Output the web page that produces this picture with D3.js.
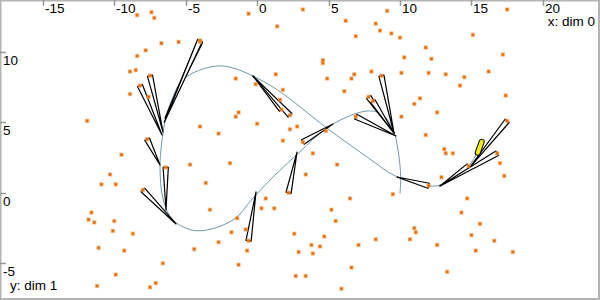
<!DOCTYPE html>
<html>
<head>
<meta charset="utf-8">
<script src="https://cdn.jsdelivr.net/npm/d3@7"></script>
<style>
html,body{margin:0;padding:0;background:#fff;}
svg{display:block;font-family:"Liberation Sans",Arial,sans-serif;}
</style>
</head>
<body>
<svg id="chart" width="600" height="300"></svg>
<script>
// Tick values
const xTicks = [-15, -10, -5, 0, 5, 10, 15, 20];
const yTicks = [-5, 0, 5, 10];

// Plain scatter points (dim 0, dim 1)
const pointsX = [-8.4,-7.4,-7.2,-0.6,1.4,-6.7,-5.5,-7.8,-8.4,-8.5,-8.9,1.3,-1.5,-0.1,1.8,-8.9,-7.6,1.6,
  3.2,9.1,17.5,6.2,8.3,8.6,9.4,10.0,6.9,15.1,11.8,17.2,4.6,4.6,10.3,12.2,6.8,8.0,10.1,12.0,13.2,14.5,16.2,4.9,6.6,14.2,6.1,17.4,11.4,
  -11.9,-9.5,-10.3,-10.9,-9.9,-4.0,-2.7,-1.5,-1.3,0.0,-4.7,-1.9,-3.6,2.8,2.3,1.8,0.6,
  11.0,12.6,10.1,4.8,3.9,11.8,13.1,13.2,13.7,17.0,17.3,12.9,5.6,3.4,9.5,6.5,14.7,
  -11.6,-11.8,-11.4,-10.0,-10.1,-8.7,-11.1,-9.3,-6.6,-9.9,-11.2,-7.5,-7.1,-3.3,-1.4,-1.8,-0.8,-2.7,-4.4,-0.7,-1.3,0.3,1.2,2.6,2.9,2.7,
  5.2,5.5,4.7,3.8,4.4,3.9,7.1,8.3,3.4,6.6,5.9,11.0,11.1,10.7,12.6,13.3,14.3,15.6,15.0,16.6,15.3,17.9];
const pointsY = [12.6,12.8,12.4,12.7,11.8,10.6,10.7,10.1,9.7,8.7,8.6,8.4,8.1,7.7,7.3,7.0,6.8,6.6,
  13.0,12.9,13.0,12.2,12.0,11.5,11.3,11.0,11.1,11.2,10.3,9.8,9.4,9.2,9.6,9.5,8.4,8.6,8.5,8.5,8.4,8.2,8.6,8.1,8.1,7.6,7.2,6.9,6.7,
  5.1,2.7,1.3,0.6,0.6,4.7,4.2,5.4,5.7,4.9,2.0,2.1,0.7,4.7,4.5,3.7,-0.4,
  6.3,5.7,5.4,4.4,2.8,4.1,3.1,2.8,2.8,2.1,1.2,1.1,2.0,1.3,-0.1,-0.4,-0.4,
  -1.4,-1.9,-2.1,-2.0,-2.7,-2.9,-3.9,-4.1,-5.0,-5.8,-6.6,-6.7,-6.4,-1.2,-1.8,-2.8,-2.6,-3.5,-4.0,-4.1,-5.1,-1.1,-1.1,-2.9,-4.2,-5.9,
  -1.2,-2.0,-3.1,-3.7,-3.8,-4.3,-3.7,-3.3,-5.9,-5.3,-6.8,-2.5,-2.8,-3.3,-3.7,-5.6,-1.4,-2.2,-3.0,-3.4,-4.1,-4.2];

// Points linked to the curve (source) and where their link meets the curve (tip)
const needleX = [-4.0,-4.0,-7.5,-8.2,-7.7,-6.4,-8.0,-0.6,1.7,2.3,3.2,2.2,8.7,7.8,8.1,6.9,12.0,14.8,16.8,17.5];
const needleY = [10.7,10.8,8.3,7.6,3.8,1.8,0.2,-3.4,5.9,5.5,3.6,0.0,8.3,6.8,6.5,5.4,0.5,1.9,2.8,5.1];
const tipX = [-6.45,-6.5,-6.59,-6.66,-6.8,-6.38,-5.68,-0.08,-0.29,-0.29,5.31,2.79,9.58,9.58,9.58,9.72,9.79,12.8,12.8,14.9];
const tipY = [5.3,5.0,4.31,4.1,1.97,-1.22,-2.21,0.06,8.28,8.28,4.88,2.89,4.24,4.24,4.24,4.03,1.12,0.48,0.48,1.82];

// Curve through these knots
const curveX = [10.0,10.05,9.86,9.53,8.81,8.02,6.97,4.87,3.0,1.25,-0.29,-1.69,-4.23,-5.89,-6.57,-6.8,-6.68,-6.4,-5.98,-5.4,-4.49,-2.83,-1.69,-0.29,1.11,2.3,4.87,7.67,9.77,12.1,12.8,13.85,14.83,15.46];
const curveY = [-0.04,1.14,3.04,4.45,5.52,5.8,5.64,4.6,2.91,1.26,-0.37,-1.93,-2.69,-1.93,-0.51,1.83,3.53,5.3,6.58,7.79,8.5,8.99,8.85,8.28,7.5,6.65,4.6,2.56,1.14,0.48,0.55,1.05,1.9,2.96];

// Highlighted segment
const highlightX = [15.72, 15.44];
const highlightY = [3.62, 2.84];

const W = 600, H = 300;
const svg = d3.select("#chart");
const x = d3.scaleLinear().domain([-18, 24]).range([0, W]);
const y = d3.scaleLinear().domain([-7.6, 13.67]).range([H, 0]);

// frame
svg.append("rect").attr("x", 0.5).attr("y", 0.5).attr("width", W - 1.5).attr("height", H - 1.5)
  .attr("fill", "none").attr("stroke", "#b4b4b4").attr("stroke-width", 2);

// x ticks (top)
const xg = svg.append("g");
xTicks.forEach(t => {
  const px = Math.round(x(t)) + 0.5;
  xg.append("line").attr("x1", px).attr("x2", px).attr("y1", 0).attr("y2", 6)
    .attr("stroke", "#999").attr("stroke-width", 1.5);
  xg.append("text").attr("x", px + 1.5).attr("y", 13).attr("font-size", 13.5).attr("fill", "#000").text(t);
});
// y ticks (left)
const yg = svg.append("g");
yTicks.forEach(t => {
  const py = Math.round(y(t)) + 0.5;
  yg.append("line").attr("x1", 0).attr("x2", 6).attr("y1", py).attr("y2", py)
    .attr("stroke", "#999").attr("stroke-width", 1.5);
  yg.append("text").attr("x", 3).attr("y", py + 12.5).attr("font-size", 13.5).attr("fill", "#000").text(t);
});
svg.append("text").attr("x", 595).attr("y", 26).attr("text-anchor", "end").attr("font-size", 13.5).text("x: dim 0");
svg.append("text").attr("x", 10).attr("y", 290).attr("font-size", 13.5).text("y: dim 1");

// curve
const curveData = curveX.map((v, i) => [v, curveY[i]]);
svg.append("path")
  .attr("d", d3.line().x(d => x(d[0])).y(d => y(d[1])).curve(d3.curveCatmullRom.alpha(0.5))(curveData))
  .attr("fill", "none").attr("stroke", "#7298aa").attr("stroke-width", 1);

// needles
const needles = needleX.map((v, i) => ({sx: x(v), sy: y(needleY[i]), tx: x(tipX[i]), ty: y(tipY[i])}));
svg.append("g").selectAll("path").data(needles).join("path")
  .attr("d", d => {
    const dx = d.sx - d.tx, dy = d.sy - d.ty;
    const L = Math.hypot(dx, dy) || 1;
    const nx = -dy / L * 2.6, ny = dx / L * 2.6;
    return `M${d.tx},${d.ty}L${d.sx + nx},${d.sy + ny}L${d.sx - nx},${d.sy - ny}Z`;
  })
  .attr("fill", "#fff").attr("stroke", "#000").attr("stroke-width", 1.2).attr("stroke-linejoin", "round");

// points
const allPts = pointsX.map((v, i) => [v, pointsY[i]]).concat(needleX.map((v, i) => [v, needleY[i]]));
svg.append("g").selectAll("rect").data(allPts).join("rect")
  .attr("x", d => x(d[0]) - 1.5).attr("y", d => y(d[1]) - 1.5)
  .attr("width", 3).attr("height", 3)
  .attr("fill", "#e06a08").attr("stroke", "#f29a4a").attr("stroke-opacity", 0.5).attr("stroke-width", 1.4);

// highlight
const hl = svg.append("g");
hl.append("line").attr("x1", x(highlightX[0])).attr("y1", y(highlightY[0])).attr("x2", x(highlightX[1])).attr("y2", y(highlightY[1]))
  .attr("stroke", "#000").attr("stroke-width", 6).attr("stroke-linecap", "round");
hl.append("line").attr("x1", x(highlightX[0])).attr("y1", y(highlightY[0])).attr("x2", x(highlightX[1])).attr("y2", y(highlightY[1]))
  .attr("stroke", "#f2ee00").attr("stroke-width", 4).attr("stroke-linecap", "round");
</script>
</body>
</html>
